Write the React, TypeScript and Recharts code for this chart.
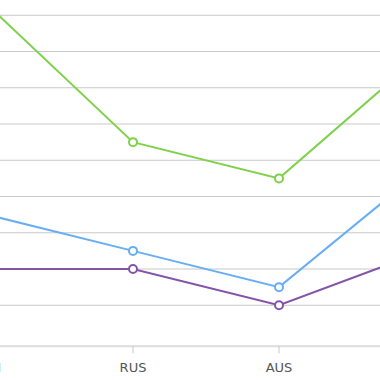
import React from "react";
import { LineChart, Line, XAxis, YAxis, CartesianGrid } from "recharts";

const categories = ["CHN", "RUS", "AUS", "GBR"];
const seriesA = [93, 55, 45, 80];
const seriesB = [35, 25, 15, 48];
const seriesC = [20, 20, 10, 25];
const yTicks = [10, 20, 30, 40, 50, 60, 70, 80, 90];

const data = categories.map((c, i) => ({
  name: c,
  a: seriesA[i],
  b: seriesB[i],
  c: seriesC[i],
}));

const GREEN = "#7fd14b";
const BLUE = "#68aef5";
const PURPLE = "#8454a9";

export default function App() {
  return (
    <div
      style={{
        position: "fixed",
        left: 0,
        top: 0,
        width: 380,
        height: 380,
        overflow: "hidden",
        background: "#fff",
      }}
    >
      <div style={{ position: "absolute", left: -13, top: -21.25 }}>
        <LineChart
          width={438}
          height={407.25}
          data={data}
          margin={{ top: 0, right: 0, left: 0, bottom: 0 }}
        >
          <CartesianGrid horizontal vertical={false} stroke="#c8c8c8" />
          <XAxis
            dataKey="name"
            interval={0}
            height={40}
            tickSize={7}
            tickMargin={10}
            axisLine={{ stroke: "#dddddd", strokeWidth: 2 }}
            tickLine={{ stroke: "#c8c8c8" }}
            tick={{ fill: "#555", fontSize: 13, fontFamily: "DejaVu Sans" }}
          />
          <YAxis hide domain={[-1.31, 100]} ticks={yTicks} type="number" />
          {[
            { key: "a", color: GREEN },
            { key: "b", color: BLUE },
            { key: "c", color: PURPLE },
          ].map((s) => (
            <Line
              key={s.key}
              dataKey={s.key}
              type="linear"
              stroke={s.color}
              strokeWidth={2}
              dot={{ r: 4, fill: "#fff", stroke: s.color, strokeWidth: 2 }}
              activeDot={false}
              isAnimationActive={false}
            />
          ))}
        </LineChart>
      </div>
    </div>
  );
}
